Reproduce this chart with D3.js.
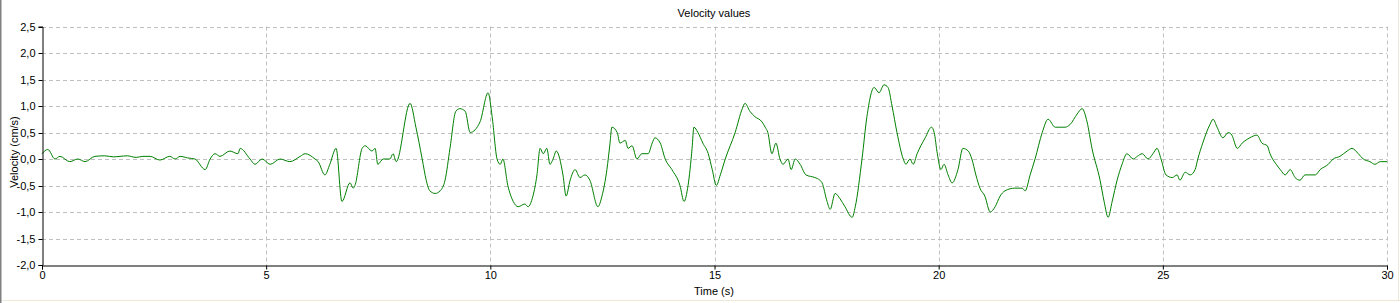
<!DOCTYPE html>
<html><head><meta charset="utf-8">
<script src="https://cdn.jsdelivr.net/npm/d3@7"></script>
<style>
html,body{margin:0;padding:0;background:#fff;overflow:hidden;}
text{font-family:"Liberation Sans",Arial,sans-serif;}
</style></head>
<body><svg id="c" width="1400" height="303"></svg>
<script>
const chartTitle = "Velocity values";
const xLabel = "Time (s)";
const yLabel = "Velocity (cm/s)";
const xTicks = [0,5,10,15,20,25,30];
const yTicks = [-2.0,-1.5,-1.0,-0.5,0.0,0.5,1.0,1.5,2.0,2.5];
const timeS = [0,0.13,0.29,0.40,0.62,0.80,0.96,1.18,1.40,1.60,1.74,1.90,2.10,2.25,2.41,2.63,2.85,2.97,3.08,3.25,3.41,3.64,3.75,3.86,3.97,4.19,4.37,4.42,4.64,4.75,4.91,5.09,5.31,5.53,5.76,5.87,6.09,6.16,6.31,6.42,6.56,6.69,6.87,6.94,6.98,7.14,7.21,7.36,7.43,7.49,7.61,7.76,7.83,7.90,8.21,8.34,8.48,8.57,8.65,8.77,8.88,8.99,9.10,9.23,9.32,9.44,9.55,9.77,9.95,10.04,10.15,10.22,10.28,10.39,10.51,10.62,10.77,10.84,10.95,11.04,11.11,11.18,11.26,11.33,11.40,11.47,11.62,11.69,11.78,11.89,12.00,12.11,12.22,12.40,12.49,12.60,12.67,12.71,12.83,12.89,13.01,13.07,13.16,13.27,13.38,13.52,13.61,13.67,13.79,13.90,14.05,14.23,14.32,14.41,14.50,14.54,14.63,14.74,14.86,14.95,15.04,15.13,15.24,15.46,15.62,15.68,15.79,15.90,16.06,16.13,16.19,16.28,16.37,16.46,16.53,16.64,16.71,16.80,16.91,17.04,17.24,17.35,17.40,17.51,17.58,17.69,17.80,17.91,18.07,18.14,18.29,18.40,18.56,18.67,18.78,18.87,18.96,19.07,19.21,19.27,19.36,19.43,19.52,19.70,19.84,19.90,19.97,20.05,20.12,20.21,20.30,20.43,20.54,20.66,20.74,20.83,20.92,21.03,21.15,21.26,21.37,21.48,21.70,21.86,21.93,22.04,22.15,22.31,22.44,22.60,22.82,22.93,23.09,23.20,23.31,23.42,23.60,23.69,23.78,23.87,23.98,24.09,24.20,24.34,24.43,24.54,24.67,24.78,24.87,24.96,25.07,25.21,25.32,25.38,25.50,25.61,25.72,25.78,25.89,26.05,26.12,26.21,26.34,26.46,26.54,26.66,26.77,26.94,27.10,27.21,27.33,27.39,27.53,27.62,27.73,27.84,27.95,28.06,28.17,28.40,28.51,28.69,28.80,28.95,29.11,29.22,29.36,29.47,29.62,29.73,29.85,30.0];
const velocity = [0.10,0.18,0.00,0.05,-0.05,0.00,-0.05,0.05,0.06,0.04,0.05,0.06,0.03,0.05,0.05,-0.02,0.05,0.00,0.05,0.02,0.00,-0.20,0.00,0.10,0.05,0.15,0.10,0.20,0.00,-0.10,0.00,-0.10,0.00,-0.05,0.05,0.10,0.00,-0.05,-0.30,-0.10,0.20,-0.80,-0.45,-0.55,-0.50,0.20,0.25,0.15,0.20,-0.10,0.00,0.00,0.10,-0.05,1.05,0.60,0.00,-0.40,-0.60,-0.65,-0.60,-0.40,0.20,0.90,0.95,0.90,0.50,0.70,1.25,0.80,0.00,-0.10,0.00,-0.50,-0.80,-0.90,-0.85,-0.90,-0.70,-0.30,0.20,0.10,0.20,-0.10,0.00,0.15,-0.30,-0.70,-0.40,-0.20,-0.35,-0.30,-0.40,-0.90,-0.70,-0.20,0.30,0.60,0.50,0.30,0.35,0.20,0.25,0.00,0.10,0.10,0.30,0.40,0.30,0.00,-0.20,-0.50,-0.80,-0.50,0.20,0.60,0.50,0.30,0.10,-0.20,-0.50,-0.30,0.00,0.50,0.95,1.05,0.90,0.80,0.70,0.60,0.50,0.10,0.30,0.00,-0.10,0.00,-0.20,0.00,-0.10,-0.30,-0.35,-0.40,-0.45,-0.80,-0.95,-0.65,-0.75,-0.90,-1.10,-0.90,0.00,0.80,1.35,1.25,1.40,1.35,1.00,0.50,0.00,-0.10,0.00,-0.10,0.10,0.40,0.60,0.50,0.10,-0.20,-0.10,-0.30,-0.45,-0.20,0.20,0.15,0.00,-0.30,-0.55,-0.70,-1.00,-0.90,-0.70,-0.60,-0.55,-0.55,-0.60,-0.30,0.00,0.50,0.75,0.60,0.60,0.65,0.85,0.95,0.70,0.20,-0.40,-0.80,-1.10,-0.80,-0.40,-0.10,0.10,0.00,0.05,0.10,0.00,0.10,0.20,0.00,-0.30,-0.35,-0.30,-0.40,-0.25,-0.30,-0.20,0.00,0.30,0.65,0.75,0.60,0.40,0.50,0.45,0.20,0.30,0.40,0.45,0.30,0.25,0.10,-0.10,-0.20,-0.30,-0.20,-0.35,-0.40,-0.30,-0.30,-0.20,-0.10,0.00,0.05,0.15,0.20,0.10,0.00,-0.05,-0.10,-0.05,-0.05];

const svg = d3.select("#c");
const L = 42, R = 1387, T = 26.5, B = 265;
const x = d3.scaleLinear().domain([0,30]).range([L,R]);
const y = d3.scaleLinear().domain([-2,2.5]).range([B,T]);
const fmt = d => d3.format(".1f")(d).replace(".", ",").replace("−","-");

// frame lines
svg.append("line").attr("x1",0.5).attr("x2",0.5).attr("y1",0).attr("y2",303).attr("stroke","#808080");
svg.append("line").attr("x1",1.5).attr("x2",1.5).attr("y1",0).attr("y2",303).attr("stroke","#c0c0c0");
svg.append("line").attr("x1",2).attr("x2",1400).attr("y1",300.5).attr("y2",300.5).attr("stroke","#ece9d8");
svg.append("line").attr("x1",1398.5).attr("x2",1398.5).attr("y1",0).attr("y2",300).attr("stroke","#ece9d8");

// grid
const g = svg.append("g");
g.selectAll(".hg").data(yTicks.filter(d=>d>-2)).join("line")
  .attr("x1",L).attr("x2",R).attr("y1",d=>Math.round(y(d))+0.5).attr("y2",d=>Math.round(y(d))+0.5)
  .attr("stroke","#c0c0c0").attr("stroke-dasharray","4,3");
g.selectAll(".vg").data(xTicks.filter(d=>d>0)).join("line")
  .attr("x1",d=>Math.round(x(d))+0.5).attr("x2",d=>Math.round(x(d))+0.5).attr("y1",T).attr("y2",B)
  .attr("stroke","#c0c0c0").attr("stroke-dasharray","4,3");

// line
const pts = timeS.map((t,i)=>[t,velocity[i]]);
svg.append("path").datum(pts)
  .attr("fill","none").attr("stroke","#008000").attr("stroke-width",1)
  .attr("d", d3.line().x(d=>x(d[0])).y(d=>y(d[1])).curve(d3.curveMonotoneX));

// axes
const xAxis = svg.append("g").attr("transform",`translate(0,${Math.round(B)+0.5})`)
  .call(d3.axisBottom(x).tickValues(xTicks).tickSize(4).tickPadding(2).tickFormat(d3.format("d")));
const yAxis = svg.append("g").attr("transform",`translate(${L+0.5},0)`)
  .call(d3.axisLeft(y).tickValues(yTicks).tickSize(4).tickPadding(3).tickFormat(fmt));
[xAxis,yAxis].forEach(a=>{
  a.select(".domain").attr("stroke","#000");
  a.selectAll(".tick line").attr("stroke","#000");
  a.selectAll(".tick text").attr("font-size",11).attr("font-family","Liberation Sans, Arial, sans-serif").attr("fill","#000");
});
yAxis.selectAll(".tick").attr("transform",d=>`translate(0,${Math.round(y(d))+0.5})`);

svg.append("text").attr("x",714).attr("y",17).attr("text-anchor","middle").attr("font-size",11).text(chartTitle);
svg.append("text").attr("x",714).attr("y",295).attr("text-anchor","middle").attr("font-size",11).text(xLabel);
svg.append("text").attr("transform","translate(18,152) rotate(-90)").attr("text-anchor","middle").attr("font-size",11).text(yLabel);
</script></body></html>
